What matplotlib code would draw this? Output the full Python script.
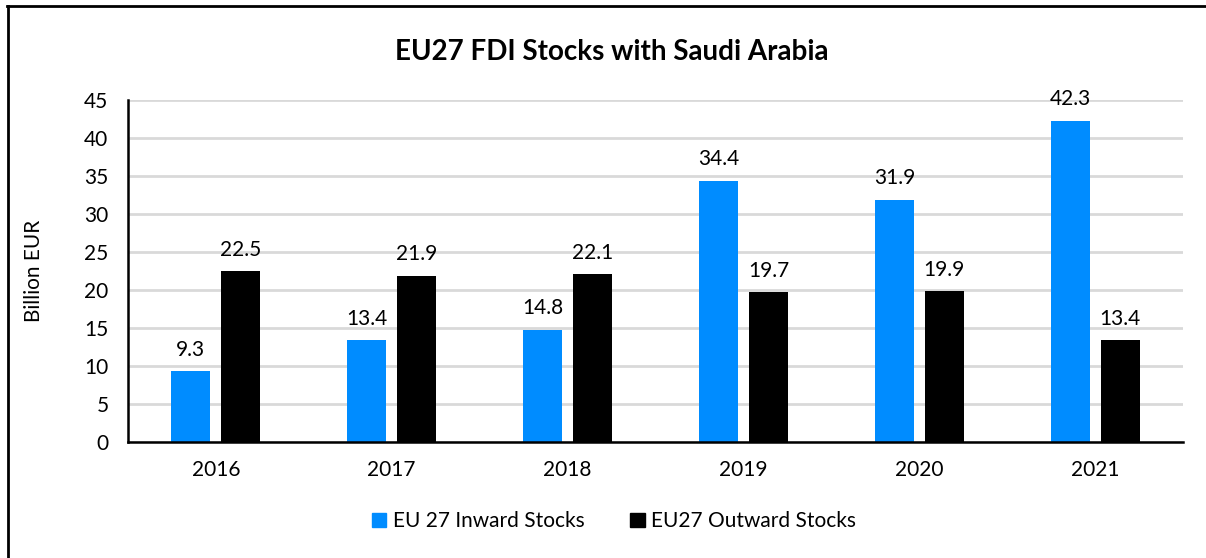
import numpy as np
import matplotlib.pyplot as plt
from matplotlib.lines import Line2D
from matplotlib.patches import Patch

# ================= 数据 =================
years = ['2016', '2017', '2018', '2019', '2020', '2021']
inward = [9.3, 13.4, 14.8, 34.4, 31.9, 42.3]
outward = [22.5, 21.9, 22.1, 19.7, 19.9, 13.4]

BLUE = '#008CFF'
FS = 15
plt.rcParams['font.family'] = ['Lato', 'DejaVu Sans']

fig = plt.figure(figsize=(12.06, 5.58), dpi=100)
ax = fig.add_axes([0.1061, 0.2079, 0.8749, 0.6129])

x = np.arange(len(years))
w = 0.222
off = 0.142
b1 = ax.bar(x - off, inward, w, color=BLUE, label='EU 27 Inward Stocks', zorder=3)
b2 = ax.bar(x + off, outward, w, color='black', label='EU27 Outward Stocks', zorder=3)

for bars in (b1, b2):
    for r in bars:
        ax.annotate(f'{r.get_height():.1f}', (r.get_x() + r.get_width() / 2, r.get_height()),
                    xytext=(0, 8), textcoords='offset points', ha='center', va='bottom',
                    fontsize=FS, color='black')

ax.set_xlim(-0.5, len(years) - 0.5)
ax.set_ylim(0, 45)
ax.set_yticks(range(0, 46, 5))
ax.set_xticks(x)
ax.set_xticklabels(years)
ax.tick_params(axis='both', length=0, labelsize=FS)
ax.tick_params(axis='x', pad=13)
ax.tick_params(axis='y', pad=14)
ax.grid(axis='y', color='#D9D9D9', linewidth=2, zorder=0)
for s in ('top', 'right'):
    ax.spines[s].set_visible(False)
for s in ('left', 'bottom'):
    ax.spines[s].set_linewidth(1.8)
    ax.spines[s].set_zorder(4)
ax.set_ylabel('Billion EUR', fontsize=FS)
ax.yaxis.set_label_coords(-0.080, 0.5)

fig.text(0.507, 0.907, 'EU27 FDI Stocks with Saudi Arabia', ha='center', va='center',
         fontsize=20, fontweight='bold')

handles = [Patch(color=BLUE), Patch(color='black')]
fig.legend(handles, ['EU 27 Inward Stocks', 'EU27 Outward Stocks'], loc='center',
           bbox_to_anchor=(0.509, 0.066), ncol=2, frameon=False, fontsize=FS,
           handlelength=0.7, handleheight=0.7, handletextpad=0.3, columnspacing=2.2)

# 外框 (只看得见上边和左边)
fig.add_artist(Line2D([0.006, 1.0], [0.989, 0.989], color='black', linewidth=2, transform=fig.transFigure))
fig.add_artist(Line2D([0.0065, 0.0065], [0.0, 0.989], color='black', linewidth=2, transform=fig.transFigure))

fig.savefig('out.png', dpi=100)
